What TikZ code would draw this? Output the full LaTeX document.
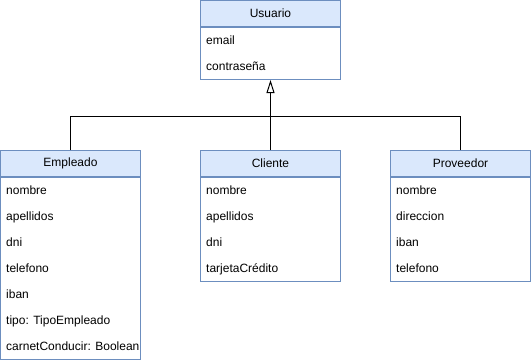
\documentclass[tikz,border=0pt]{standalone}
\usepackage{fontspec}
\setmainfont{Liberation Sans}
\usepackage{tikz}
\usetikzlibrary{positioning,arrows.meta}

\definecolor{lineblue}{HTML}{6C8EBF}
\definecolor{headblue}{HTML}{DAE8FC}

\tikzset{
    classhead/.style={draw=lineblue, fill=headblue, line width=1pt, minimum width=140pt, minimum height=26pt, inner sep=0pt, font=\fontsize{12}{14}\selectfont},
    classbody/.style={draw=lineblue, fill=white, line width=1pt, minimum width=140pt, inner sep=0pt, below=0pt of #1},
    field/.style={anchor=west, inner sep=0pt, text height=9pt, text depth=0pt, font=\fontsize{12}{14}\selectfont},
    extends/.style={line width=1pt, -{Triangle[open, length=13pt, width=8pt]}},
    link/.style={line width=1pt}
}

\begin{document}
\begin{tikzpicture}[x=1pt, y=-1pt]
    \useasboundingbox (-0.5,-0.5) rectangle (530.5,361.5);

    % Superclass
    \node[classhead] (usuario) at (270,13) {Usuario};
    \node[classbody=usuario, minimum height=52pt] (usuarioBody) {};
    \foreach \f [count=\i] in {email, contraseña}
        \node[field] (usu\i) at ([xshift=6pt, yshift={-13-26*(\i-1)}] usuario.south west) {\f};

    % Subclasses
    \node[classhead] (empleado) at (70,163) {Empleado};
    \node[classbody=empleado, minimum height=182pt] (empleadoBody) {};
    \foreach \f [count=\i] in {nombre, apellidos, dni, telefono, iban, tipo: TipoEmpleado, carnetConducir: Boolean}
        \node[field] (emp\i) at ([xshift=6pt, yshift={-13-26*(\i-1)}] empleado.south west) {\f};

    \node[classhead] (cliente) at (270,163) {Cliente};
    \node[classbody=cliente, minimum height=104pt] (clienteBody) {};
    \foreach \f [count=\i] in {nombre, apellidos, dni, tarjetaCrédito}
        \node[field] (cli\i) at ([xshift=6pt, yshift={-13-26*(\i-1)}] cliente.south west) {\f};

    \node[classhead] (proveedor) at (460,163) {Proveedor};
    \node[classbody=proveedor, minimum height=104pt] (proveedorBody) {};
    \foreach \f [count=\i] in {nombre, direccion, iban, telefono}
        \node[field] (pro\i) at ([xshift=6pt, yshift={-13-26*(\i-1)}] proveedor.south west) {\f};

    % Generalisation
    \coordinate (join) at (270,116);
    \draw[link] (empleado.north) |- (join);
    \draw[link] (proveedor.north) |- (join);
    \draw[extends] (cliente.north) -- (usuarioBody.south);
\end{tikzpicture}
\end{document}
